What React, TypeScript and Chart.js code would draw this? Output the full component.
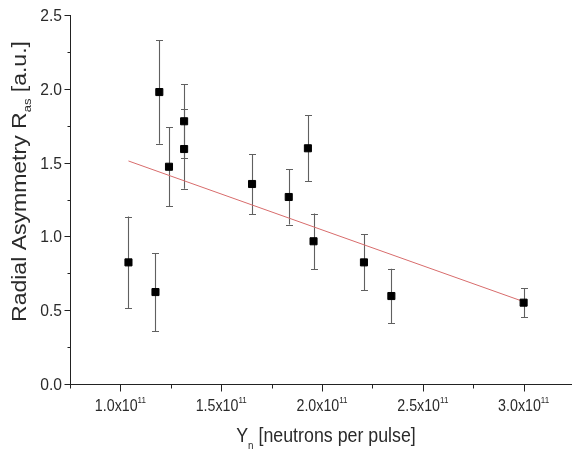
import { useEffect, useRef } from 'react';
import { Chart, registerables } from 'chart.js';

Chart.register(...registerables);

// ---- data ----
const neutronYield = [1.04e11, 1.174e11, 1.193e11, 1.241e11, 1.316e11, 1.316e11, 1.653e11, 1.835e11, 1.93e11, 1.958e11, 2.208e11, 2.344e11, 3.0e11];
const radialAsymmetry = [0.824, 0.623, 1.978, 1.472, 1.78, 1.592, 1.355, 1.267, 1.597, 0.967, 0.824, 0.596, 0.551];
const asymmetryError = [0.31, 0.265, 0.35, 0.266, 0.25, 0.27, 0.204, 0.187, 0.224, 0.188, 0.19, 0.185, 0.1];

const fitYield = [1.04e11, 3.0e11];
const fitAsymmetry = [1.511, 0.558];

const xMin = 0.75e11;
const xMax = 3.24e11;
const yMin = 0;
const yMax = 2.5;

const xTickValues = [1.0e11, 1.5e11, 2.0e11, 2.5e11, 3.0e11];
const xTickMantissas = ['1.0', '1.5', '2.0', '2.5', '3.0'];
const xTickExponent = '11';
const xMinorTicks = [0.75e11, 1.25e11, 1.75e11, 2.25e11, 2.75e11];
const yTickValues = [0, 0.5, 1.0, 1.5, 2.0, 2.5];
const yTickLabels = ['0.0', '0.5', '1.0', '1.5', '2.0', '2.5'];
const yMinorTicks = [0.25, 0.75, 1.25, 1.75, 2.25];

const xTitleParts = ['Y', 'n', ' [neutrons per pulse]'];
const yTitleParts = ['Radial Asymmetry R', 'as', ' [a.u.]'];

// ---- styling ----
const FONT = "'Liberation Sans', Arial, Helvetica, sans-serif";
const TEXT = '#2a2a2a';
const AXIS = '#222222';
const SQUEEZE = 0.89;

type Part = { text: string; size: number; dy: number };

function drawRich(
  ctx: CanvasRenderingContext2D,
  parts: Part[],
  x: number,
  y: number,
  rotate: boolean,
  align: 'center' | 'right',
  squeeze: number = SQUEEZE
) {
  const widths = parts.map((p) => {
    ctx.font = `${p.size}px ${FONT}`;
    return ctx.measureText(p.text).width;
  });
  const total = widths.reduce((a, b) => a + b, 0);
  ctx.save();
  ctx.translate(x, y);
  if (rotate) {
    ctx.rotate(-Math.PI / 2);
    ctx.scale(1, squeeze);
  } else {
    ctx.scale(squeeze, 1);
  }
  ctx.fillStyle = TEXT;
  ctx.textAlign = 'left';
  ctx.textBaseline = 'alphabetic';
  let cx = align === 'center' ? -total / 2 : -total;
  parts.forEach((p, i) => {
    ctx.font = `${p.size}px ${FONT}`;
    ctx.fillText(p.text, cx, p.dy);
    cx += widths[i];
  });
  ctx.restore();
}

const decorPlugin = {
  id: 'decor',
  beforeDatasetsDraw(chart: any) {
    // error bars
    const ctx: CanvasRenderingContext2D = chart.ctx;
    const xs = chart.scales.x;
    const ys = chart.scales.y;
    ctx.save();
    ctx.strokeStyle = '#606060';
    ctx.lineWidth = 1.1;
    neutronYield.forEach((xv, i) => {
      const px = Math.round(xs.getPixelForValue(xv)) + 0.5;
      const top = ys.getPixelForValue(radialAsymmetry[i] + asymmetryError[i]);
      const bot = ys.getPixelForValue(radialAsymmetry[i] - asymmetryError[i]);
      ctx.beginPath();
      ctx.moveTo(px, top);
      ctx.lineTo(px, bot);
      const t = Math.round(top) + 0.5;
      const b = Math.round(bot) + 0.5;
      ctx.moveTo(px - 3.5, t);
      ctx.lineTo(px + 3.5, t);
      ctx.moveTo(px - 3.5, b);
      ctx.lineTo(px + 3.5, b);
      ctx.stroke();
    });
    ctx.restore();
  },
  afterDraw(chart: any) {
    const ctx: CanvasRenderingContext2D = chart.ctx;
    const xs = chart.scales.x;
    const ys = chart.scales.y;
    const left = Math.round(chart.chartArea.left) + 0.5;
    const bottom = Math.round(chart.chartArea.bottom) + 0.5;
    ctx.save();
    ctx.strokeStyle = AXIS;
    ctx.lineWidth = 1;
    ctx.beginPath();
    yTickValues.forEach((v) => {
      const py = Math.round(ys.getPixelForValue(v)) + 0.5;
      ctx.moveTo(left - 6, py);
      ctx.lineTo(left, py);
    });
    yMinorTicks.forEach((v) => {
      const py = Math.round(ys.getPixelForValue(v)) + 0.5;
      ctx.moveTo(left - 3, py);
      ctx.lineTo(left, py);
    });
    xTickValues.forEach((v) => {
      const px = Math.round(xs.getPixelForValue(v)) + 0.5;
      ctx.moveTo(px, bottom);
      ctx.lineTo(px, bottom + 7);
    });
    xMinorTicks.forEach((v) => {
      const px = Math.round(xs.getPixelForValue(v)) + 0.5;
      ctx.moveTo(px, bottom);
      ctx.lineTo(px, bottom + 4);
    });
    ctx.stroke();
    ctx.restore();

    // y tick labels
    yTickValues.forEach((v, i) => {
      const py = ys.getPixelForValue(v);
      drawRich(ctx, [{ text: yTickLabels[i], size: 17, dy: 0 }], 62, py + 6, false, 'right', 0.92);
    });
    // x tick labels with superscript exponent
    xTickValues.forEach((v, i) => {
      const px = xs.getPixelForValue(v);
      drawRich(
        ctx,
        [
          { text: xTickMantissas[i] + 'x10', size: 16, dy: 0 },
          { text: xTickExponent, size: 9, dy: -7.5 },
        ],
        px,
        410.5,
        false,
        'center'
      );
    });
    // axis titles
    drawRich(
      ctx,
      [
        { text: xTitleParts[0], size: 20, dy: 0 },
        { text: xTitleParts[1], size: 11, dy: 7 },
        { text: xTitleParts[2], size: 20, dy: 0 },
      ],
      326,
      442,
      false,
      'center'
    );
    drawRich(
      ctx,
      [
        { text: yTitleParts[0], size: 23, dy: 0 },
        { text: yTitleParts[1], size: 13, dy: 6 },
        { text: yTitleParts[2], size: 23, dy: 0 },
      ],
      26,
      181.5,
      true,
      'center'
    );
  },
};

export default function App() {
  const canvasRef = useRef<HTMLCanvasElement | null>(null);

  useEffect(() => {
    const canvas = canvasRef.current;
    if (!canvas) return;
    const points = neutronYield.map((x, i) => ({ x, y: radialAsymmetry[i] }));
    const fitPoints = fitYield.map((x, i) => ({ x, y: fitAsymmetry[i] }));

    const chart = new Chart(canvas, {
      type: 'scatter',
      data: {
        datasets: [
          {
            type: 'line',
            data: fitPoints,
            borderColor: '#d86c6c',
            borderWidth: 1,
            pointRadius: 0,
            fill: false,
            order: 2,
          } as any,
          {
            type: 'scatter',
            data: points,
            pointStyle: 'rect',
            pointRadius: 5,
            backgroundColor: '#000000',
            borderColor: '#000000',
            borderWidth: 1,
            order: 1,
          } as any,
        ],
      },
      options: {
        animation: false,
        responsive: false,
        events: [],
        layout: { autoPadding: false, padding: { top: 15, left: 0, right: 0, bottom: 0 } },
        plugins: {
          legend: { display: false },
          tooltip: { enabled: false },
        },
        scales: {
          x: {
            type: 'linear',
            min: xMin,
            max: xMax,
            ticks: { display: false },
            grid: { display: true, drawOnChartArea: false, drawTicks: false },
            border: { display: true, color: AXIS, width: 1 },
            afterFit: (scale: any) => {
              scale.height = 67;
            },
          },
          y: {
            type: 'linear',
            min: yMin,
            max: yMax,
            ticks: { display: false },
            grid: { display: true, drawOnChartArea: false, drawTicks: false },
            border: { display: true, color: AXIS, width: 1 },
            afterFit: (scale: any) => {
              scale.width = 70;
            },
          },
        },
      },
      plugins: [decorPlugin],
    });
    return () => chart.destroy();
  }, []);

  return (
    <div style={{ position: 'absolute', left: 0, top: 0, width: 572, height: 451, background: '#ffffff' }}>
      <canvas ref={canvasRef} width={572} height={451} style={{ width: 572, height: 451 }} />
    </div>
  );
}
